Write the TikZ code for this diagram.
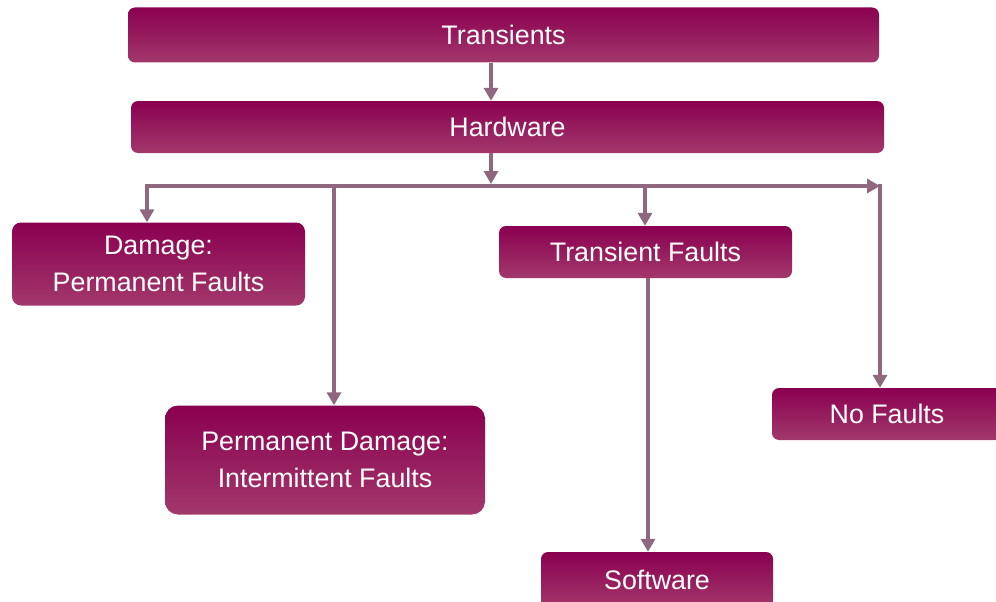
\documentclass[tikz,border=0pt]{standalone}
\usepackage{fontspec}
\setmainfont{Liberation Sans}
\usetikzlibrary{arrows.meta,calc}
\definecolor{boxtop}{RGB}{138,0,80}
\definecolor{boxbot}{RGB}{162,56,108}
\definecolor{linec}{RGB}{143,104,128}
\begin{document}
\begin{tikzpicture}[x=1pt,y=-1pt,
  box/.style={rectangle, rounded corners=7pt, top color=boxtop, bottom color=boxbot, draw=none,
    text=white, align=center, inner sep=0pt, font=\fontsize{26.8}{37}\selectfont},
  arr/.style={draw=linec, line width=4pt, -{Triangle[width=14pt,length=13pt]}}]
\useasboundingbox (0,0) rectangle (996,602);
\node[box, minimum width=751pt, minimum height=55pt] (tr) at (503.5,35) {Transients};
\node[box, minimum width=753pt, minimum height=52pt] (hw) at (507.5,127) {Hardware};
\node[box, minimum width=293pt, minimum height=83pt, rounded corners=9pt] (dmg) at (158.5,264) {Damage:\\Permanent Faults};
\node[box, minimum width=320pt, minimum height=109pt, rounded corners=13pt] (pd) at (325,460) {Permanent Damage:\\Intermittent Faults};
\node[box, minimum width=293pt, minimum height=52pt] (tf) at (645.5,252) {Transient Faults};
\node[box, minimum width=230pt, minimum height=52pt] (nf) at (887,414) {No Faults};
\node[box, minimum width=232pt, minimum height=56pt] (sw) at (657,580) {Software};
\coordinate (spine) at (491,0);
\coordinate (busL) at (147,186);
\coordinate (busR) at (880,186);
\coordinate (busTop) at (491,184);
\coordinate (tap2) at (334,186);
\coordinate (tap3) at (645,186);
\coordinate (nfTop) at (880,184);
\coordinate (swx) at (648,0);
\draw[arr] (tr.south -| spine) -- (hw.north -| spine);
\draw[arr] (hw.south -| spine) -- (busTop);
\draw[arr] (spine |- busL) -- (busR);
\draw[arr] (spine |- busL) -- (busL) -- (busL |- dmg.north);
\draw[arr] (tap2) -- (tap2 |- pd.north);
\draw[arr] (tap3) -- (tap3 |- tf.north);
\draw[arr] (nfTop) -- (nfTop |- nf.north);
\draw[arr] (tf.south -| swx) -- (sw.north -| swx);
\end{tikzpicture}
\end{document}
